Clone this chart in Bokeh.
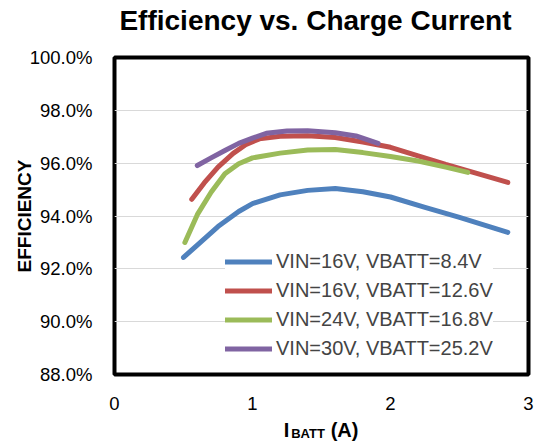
from bokeh.plotting import figure
from bokeh.models import (FixedTicker, PrintfTickFormatter, Legend, LegendItem,
                          LinearAxis, Range1d)
from bokeh.embed import file_html
from bokeh.resources import INLINE

# ---- data ----
title_text = "Efficiency vs. Charge Current"
y_title = "EFFICIENCY"
x_title_main = "I"
x_title_sub = "BATT"
x_title_unit = "(A)"
x_ticks = [0, 1, 2, 3]
y_ticks = [88, 90, 92, 94, 96, 98, 100]

s1_name = "VIN=16V, VBATT=8.4V"
s1_x = [0.5, 0.6, 0.75, 0.9, 1.0, 1.2, 1.4, 1.6, 1.8, 2.0, 2.25, 2.5, 2.85]
s1_y = [92.43, 92.9, 93.6, 94.17, 94.47, 94.8, 94.97, 95.04, 94.92, 94.72, 94.33, 93.95, 93.38]

s2_name = "VIN=16V, VBATT=12.6V"
s2_x = [0.56, 0.65, 0.75, 0.86, 0.95, 1.05, 1.2, 1.4, 1.6, 1.8, 2.0, 2.2, 2.4, 2.6, 2.85]
s2_y = [94.63, 95.25, 95.85, 96.37, 96.7, 96.92, 97.02, 97.04, 96.97, 96.8, 96.6, 96.28, 95.95, 95.65, 95.27]

s3_name = "VIN=24V, VBATT=16.8V"
s3_x = [0.51, 0.6, 0.7, 0.8, 0.9, 1.0, 1.2, 1.4, 1.6, 1.8, 2.0, 2.2, 2.4, 2.56]
s3_y = [93.0, 94.05, 94.9, 95.6, 95.98, 96.2, 96.38, 96.5, 96.52, 96.4, 96.25, 96.08, 95.85, 95.65]

s4_name = "VIN=30V, VBATT=25.2V"
s4_x = [0.6, 0.7, 0.8, 0.9, 1.0, 1.1, 1.25, 1.4, 1.6, 1.75, 1.91]
s4_y = [95.91, 96.2, 96.48, 96.75, 96.95, 97.13, 97.22, 97.23, 97.15, 97.03, 96.75]

colors = ["#4F81BD", "#C0504D", "#9BBB59", "#8064A2"]
FONT = "Liberation Sans"

p = figure(width=541, height=447, output_backend="svg", toolbar_location=None,
           x_range=Range1d(0, 3), y_range=Range1d(88, 100),
           min_border_left=114, min_border_right=13,
           min_border_top=57, min_border_bottom=73)
p.background_fill_color = "white"
p.border_fill_color = "white"
p.outline_line_color = "black"
p.outline_line_width = 4
p.title.text = ""

xa = p.below[0]
ya = p.left[0]


def plain_axis(ax):
    ax.axis_line_color = None
    ax.major_tick_line_color = None
    ax.minor_tick_line_color = None
    ax.major_tick_out = 0
    ax.major_tick_in = 0
    ax.minor_tick_out = 0
    ax.minor_tick_in = 0
    ax.major_label_text_font = FONT
    ax.major_label_text_color = "black"


# main axes
xa.ticker = FixedTicker(ticks=x_ticks)
ya.ticker = FixedTicker(ticks=y_ticks)
ya.formatter = PrintfTickFormatter(format="%.1f%%")
for ax in (xa, ya):
    plain_axis(ax)
    ax.major_label_text_font_size = "18.5px"
ya.major_label_standoff = 22
xa.major_label_standoff = 22

ya.axis_label = y_title
ya.axis_label_text_font = FONT
ya.axis_label_text_font_size = "19px"
ya.axis_label_text_font_style = "bold"
ya.axis_label_text_color = "black"
ya.axis_label_standoff = -8

p.xgrid.visible = False
p.ygrid.grid_line_color = "#D9D9D9"
p.ygrid.grid_line_width = 1

# chart title, drawn as a single label of a label-only axis above the frame
pos_title = 1.4565
ax_title = LinearAxis(ticker=FixedTicker(ticks=[pos_title]),
                      major_label_overrides={pos_title: title_text})
plain_axis(ax_title)
ax_title.major_label_text_font_size = "28px"
ax_title.major_label_text_font_style = "bold"
ax_title.major_label_standoff = 22
p.add_layout(ax_title, "above")

# x-axis title "I_BATT (A)" built from two extra label-only axes
pos_I, pos_sub, pos_unit = 1.246, 1.402, 1.667
ax_sub = LinearAxis(ticker=FixedTicker(ticks=[pos_sub]),
                    major_label_overrides={pos_sub: x_title_sub})
plain_axis(ax_sub)
ax_sub.major_label_text_font_size = "13px"
ax_sub.major_label_text_font_style = "bold"
ax_sub.major_label_standoff = 13
p.add_layout(ax_sub, "below")

ax_main = LinearAxis(ticker=FixedTicker(ticks=[pos_I, pos_unit]),
                     major_label_overrides={pos_I: x_title_main, pos_unit: x_title_unit})
plain_axis(ax_main)
ax_main.major_label_text_font_size = "20px"
ax_main.major_label_text_font_style = "bold"
ax_main.major_label_standoff = -25
p.add_layout(ax_main, "below")

renderers = []
for xs, ys, c in zip([s1_x, s2_x, s3_x, s4_x], [s1_y, s2_y, s3_y, s4_y], colors):
    r = p.line(xs, ys, line_color=c, line_width=5, line_cap="round", line_join="round")
    renderers.append(r)

names = [s1_name, s2_name, s3_name, s4_name]
legend = Legend(items=[LegendItem(label=n, renderers=[r]) for n, r in zip(names, renderers)],
                location=(111, 13), orientation="vertical",
                label_text_font=FONT, label_text_font_size="20px",
                label_height=25, glyph_height=25, glyph_width=47,
                spacing=4, padding=4, margin=0, label_standoff=4,
                border_line_color=None, background_fill_color="white",
                background_fill_alpha=1.0)
p.add_layout(legend, "center")

open("out.html", "w").write(file_html(p, INLINE))
